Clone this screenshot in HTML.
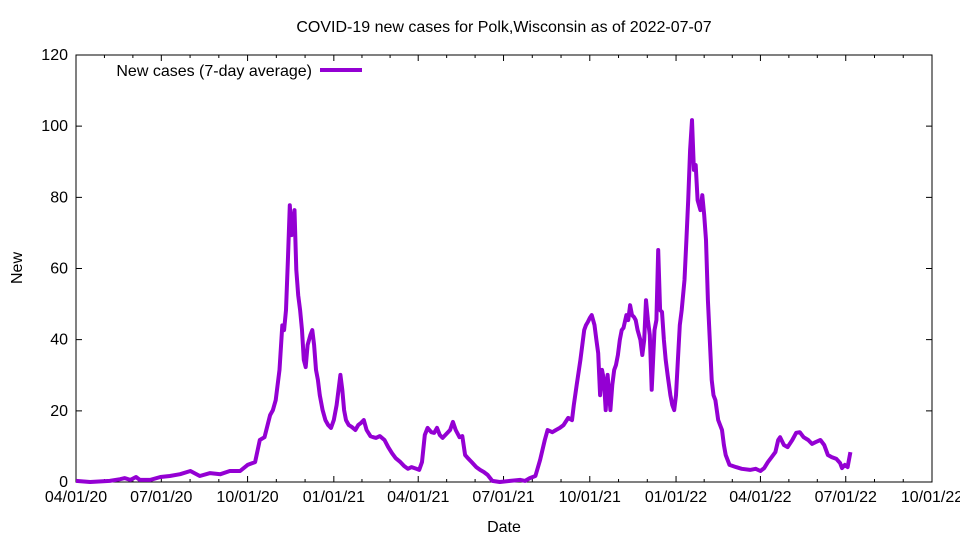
<!DOCTYPE html>
<html><head><meta charset="utf-8"><style>
body{margin:0;background:#fff;}
svg{display:block;font-family:"Liberation Sans",Arial,sans-serif;}
</style></head><body>
<svg id="chart" width="960" height="540" viewBox="0 0 960 540" xmlns="http://www.w3.org/2000/svg">
<rect x="0" y="0" width="960" height="540" fill="#fff"/>
<text x="504" y="32" font-size="16" text-anchor="middle">COVID-19 new cases for Polk,Wisconsin as of 2022-07-07</text>
<text transform="translate(22,268) rotate(-90)" font-size="16" text-anchor="middle">New</text>
<text x="504" y="532" font-size="16" text-anchor="middle">Date</text>
<g id="axes"></g>
<g id="series"></g>
<g>
<text x="312" y="76" font-size="16" text-anchor="end">New cases (7-day average)</text>
<line x1="320" y1="70" x2="362" y2="70" stroke="#9400d3" stroke-width="4"/>
</g>
</svg>
<script>
const xTickLabels = ["04/01/20","07/01/20","10/01/20","01/01/21","04/01/21","07/01/21","10/01/21","01/01/22","04/01/22","07/01/22","10/01/22"];
const xTickDays = [0,91,183,275,365,456,548,640,730,821,913];
const yTicks = [0,20,40,60,80,100,120];
const days = [0,15,36,47,52,58,64,68,79,90,100,111,122,132,143,154,164,175,183,191,196,201,207,210,213,217,220,222,224,226,228,230,233,235,237,239,241,243,245,247,250,252,254,256,258,260,263,266,269,272,275,278,282,284,286,288,291,294,298,301,304,307,310,314,317,320,324,329,333,337,341,346,350,354,358,363,366,369,372,375,379,382,385,388,391,395,399,402,405,409,412,415,418,422,427,431,435,439,444,452,463,474,479,484,490,495,500,503,508,512,516,520,525,529,531,534,538,540,542,544,546,548,550,553,555,557,559,561,563,565,567,570,572,574,576,578,580,582,584,587,589,591,593,595,597,599,602,604,606,608,610,612,614,617,619,621,623,625,627,629,631,634,636,638,640,642,644,646,649,651,653,655,657,659,661,663,666,668,670,672,674,676,678,680,682,685,687,689,691,693,697,704,710,719,725,730,734,738,742,746,749,751,755,759,764,768,772,776,781,785,789,794,798,802,806,811,815,817,820,823,826];
const cases = [0.3,0,0.3,0.8,1.1,0.6,1.4,0.6,0.6,1.4,1.7,2.2,3.1,1.7,2.5,2.2,3.1,3.1,4.8,5.6,11.8,12.6,18.8,20.2,23,31.5,44,42.7,48.3,62.4,77.8,69.4,76.4,59.6,52.5,48.3,42.7,34.3,32.3,38.5,41.3,42.7,38.5,31.5,28.7,24.4,20.2,17.4,16,15.2,17.4,21.6,30.1,25.9,20.2,17.4,16,15.5,14.6,16,16.6,17.4,14.6,12.9,12.6,12.4,12.9,11.8,9.8,8.1,6.7,5.6,4.5,3.7,4.2,3.7,3.4,5.6,13.2,15.2,14,13.8,15.2,13.2,12.4,13.5,14.6,16.9,14.6,12.6,12.9,7.6,6.7,5.6,4.2,3.4,2.8,2,0.3,0,0.3,0.6,0.3,1.1,1.7,6.2,11.8,14.6,14,14.6,15.2,16,18,17.4,21.6,27.3,34.3,38.5,42.7,44.1,45,46.1,46.9,44.1,39.9,36.2,24.4,31.5,28.7,20.2,30.1,20.2,27.3,31.5,32.9,35.7,39.9,42.7,43.3,46.9,45.5,49.7,46.9,46.4,45.5,42.7,39.9,35.7,39.9,51.1,45.5,41.3,25.9,42.7,45.5,65.2,48.3,47.8,39.9,34.3,30.1,24.4,21.6,20.2,24.4,34.3,44.1,48.3,56.8,68,79.2,93.3,101.7,87.7,89.1,79.2,76.4,80.6,75,68,51.1,39.9,28.7,24.4,23,17.4,16,14.6,10.4,7.6,4.8,4.2,3.7,3.4,3.7,3.1,3.9,5.6,7,8.4,11.8,12.6,10.4,9.8,11.8,13.8,14,12.6,11.8,10.7,11.2,11.8,10.4,7.6,7,6.5,5.3,3.9,4.8,4.2,8.4];

const L=76,R=932,T=55,B=482;
const xScale=d=>L+(d/913)*(R-L);
const yScale=v=>B-(v/120)*(B-T);
const NS="http://www.w3.org/2000/svg";
const axes=document.getElementById('axes');
function mk(tag,attrs,parent){const e=document.createElementNS(NS,tag);for(const k in attrs)e.setAttribute(k,attrs[k]);parent.appendChild(e);return e;}
const frame=mk('rect',{x:L,y:T,width:R-L,height:B-T,fill:'none',stroke:'#000','stroke-width':1},axes);


yTicks.forEach(v=>{
  const y=yScale(v);
  const t=mk('path',{d:`M${L},${y}h6M${R},${y}h-6`,stroke:'#000','stroke-width':1},axes);
  
  
  const lb=mk('text',{x:L-8,y:y+5,'font-size':16,'text-anchor':'end'},axes);
  lb.textContent=v;
  
  
});
xTickDays.forEach((d,i)=>{
  const x=xScale(d);
  const t=mk('path',{d:`M${x},${B}v-6M${x},${T}v6`,stroke:'#000','stroke-width':1},axes);
  
  
  if(i<xTickDays.length-1){
    for(let k=1;k<3;k++){
      const xm=xScale(d+(xTickDays[i+1]-d)*k/3);
      const m=mk('path',{d:`M${xm},${B}v-3M${xm},${T}v3`,stroke:'#000','stroke-width':1},axes);
      
      
    }
  }
  const lb=mk('text',{x:x,y:B+20,'font-size':16,'text-anchor':'middle'},axes);
  lb.textContent=xTickLabels[i];
  
  
});
const pts=days.map((d,i)=>xScale(d).toFixed(1)+','+yScale(cases[i]).toFixed(1)).join(' ');
const line=mk('polyline',{points:pts,fill:'none',stroke:'#9400d3','stroke-width':4,'stroke-linejoin':'round'},document.getElementById('series'));


</script>
</body></html>
